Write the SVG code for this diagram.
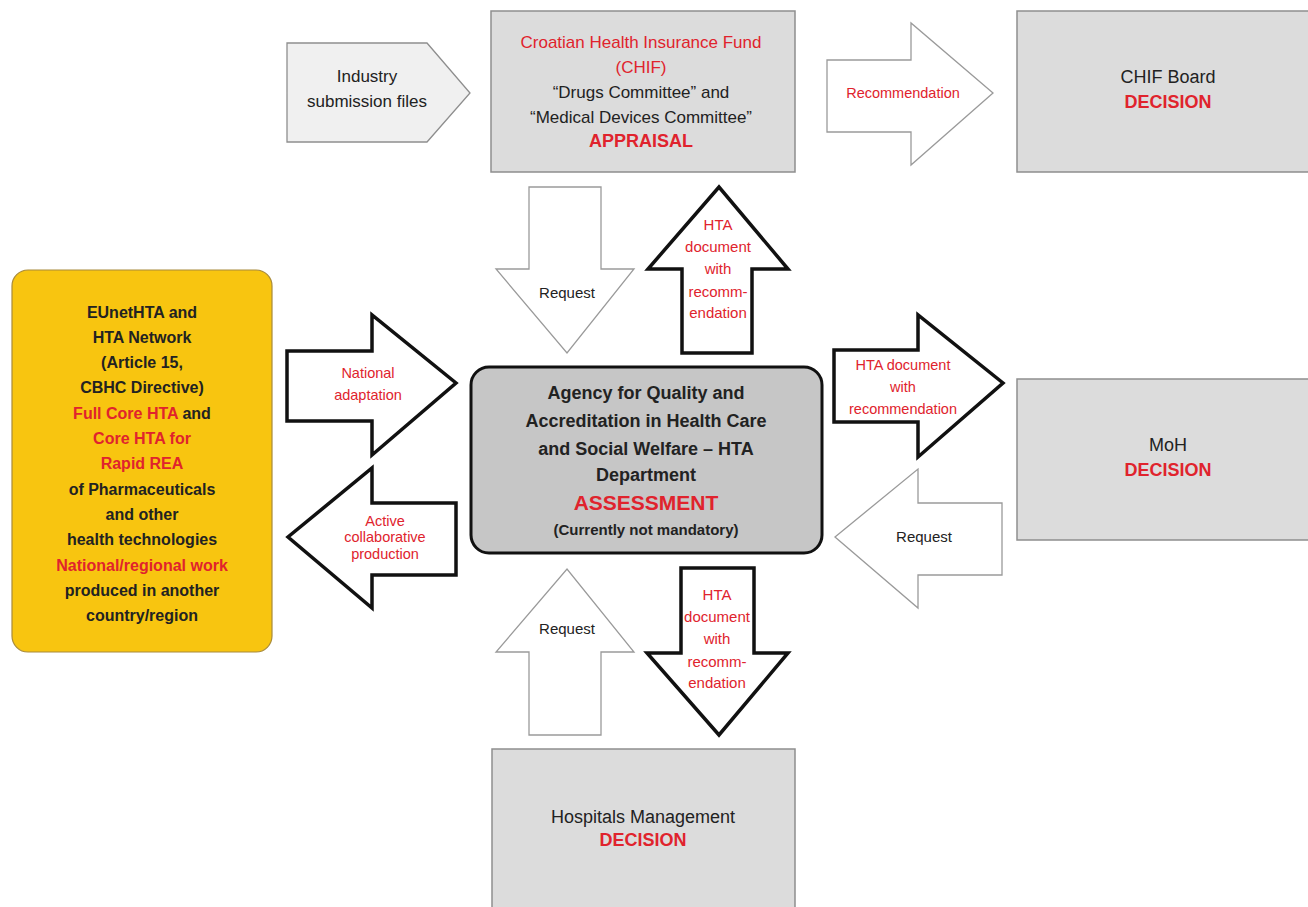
<svg xmlns="http://www.w3.org/2000/svg" width="1308" height="907" viewBox="0 0 1308 907">
<style>
text{font-family:"Liberation Sans",Arial,sans-serif;text-anchor:middle;fill:#222}
text.r,.r text{fill:#e0232d}
.b{font-weight:bold}
.box{fill:#dcdcdc;stroke:#8e8e8e;stroke-width:1.5}
.thin{fill:#fff;stroke:#9a9a9a;stroke-width:1.3;stroke-linejoin:miter}
.thick{fill:#fff;stroke:#111;stroke-width:3.5;stroke-linejoin:miter}
.s17{font-size:17px}
.s18{font-size:18px}
.s14{font-size:14.5px}
.s15{font-size:15px}
.s16{font-size:16px}
</style>
<rect width="1308" height="907" fill="#fff"/>

<g id="industry">
<path d="M287,43 L427,43 L470,93 L427,142 L287,142 Z" fill="#f0f0f0" stroke="#8e8e8e" stroke-width="1.3"/>
<text class="s17" x="367" y="82">Industry</text>
<text class="s17" x="367" y="107">submission files</text>
</g>

<g id="chif">
<rect class="box" x="491" y="11" width="304" height="161"/>
<text class="s17 r" x="641" y="48">Croatian Health Insurance Fund</text>
<text class="s17 r" x="641" y="73">(CHIF)</text>
<text class="s17" x="641" y="98">“Drugs Committee” and</text>
<text class="s17" x="641" y="123">“Medical Devices Committee”</text>
<text class="s18 b r" x="641" y="147">APPRAISAL</text>
</g>

<g id="chif-board">
<rect class="box" x="1017" y="11" width="300" height="161"/>
<text class="s18" x="1168" y="83">CHIF Board</text>
<text class="s18 b r" x="1168" y="108">DECISION</text>
</g>

<g id="eunethta">
<rect x="12" y="270" width="260" height="382" rx="16" ry="16" fill="#f8c510" stroke="#a88a3a" stroke-width="1.2"/>
<g class="s16 b">
<text x="142" y="317.5">EUnetHTA and</text>
<text x="142" y="342.8">HTA Network</text>
<text x="142" y="368.1">(Article 15,</text>
<text x="142" y="393.4">CBHC Directive)</text>
<text x="142" y="418.7"><tspan fill="#e0232d">Full Core HTA</tspan> and</text>
<text class="r" x="142" y="444">Core HTA for</text>
<text class="r" x="142" y="469.3">Rapid REA</text>
<text x="142" y="494.6">of Pharmaceuticals</text>
<text x="142" y="519.9">and other</text>
<text x="142" y="545.2">health technologies</text>
<text class="r" x="142" y="570.5">National/regional work</text>
<text x="142" y="595.8">produced in another</text>
<text x="142" y="621.1">country/region</text>
</g>
</g>

<g id="agency">
<rect x="471" y="367" width="351" height="186" rx="18" ry="18" fill="#c6c6c6" stroke="#111" stroke-width="3"/>
<g class="s18 b">
<text x="646" y="399">Agency for Quality and</text>
<text x="646" y="427">Accreditation in Health Care</text>
<text x="646" y="455">and Social Welfare – HTA</text>
<text x="646" y="481">Department</text>
</g>
<text class="b r" x="646" y="509.5" font-size="21">ASSESSMENT</text>
<text class="b" x="646" y="535" font-size="15">(Currently not mandatory)</text>
</g>

<g id="moh">
<rect class="box" x="1017" y="379" width="300" height="161"/>
<text class="s18" x="1168" y="451">MoH</text>
<text class="s18 b r" x="1168" y="476">DECISION</text>
</g>

<g id="hospitals">
<rect class="box" x="492" y="749" width="303" height="170"/>
<text class="s18" x="643" y="823">Hospitals Management</text>
<text class="s18 b r" x="643" y="846">DECISION</text>
</g>

<g id="connectors">
<g id="recommendation">
<path class="thin" d="M827,60 L911,60 L911,23 L993,93 L911,165 L911,132 L827,132 Z"/>
<text class="s14 r" x="903" y="98">Recommendation</text>
</g>
<g id="request-chif">
<path class="thin" d="M529,187 L601,187 L601,269 L634,269 L567,353 L496,269 L529,269 Z"/>
<text class="s15" x="567" y="298">Request</text>
</g>
<g id="hta-to-chif">
<path class="thick" d="M682,353 L752,353 L752,269 L788,269 L719,187 L648,269 L682,269 Z"/>
<g class="s15 r">
<text x="718" y="230">HTA</text>
<text x="718" y="252">document</text>
<text x="718" y="274">with</text>
<text x="718" y="297">recomm-</text>
<text x="718" y="318">endation</text>
</g>
</g>
<g id="national-adaptation">
<path class="thick" d="M287,351 L372,351 L372,315 L456,383 L372,455 L372,421 L287,421 Z"/>
<text class="s14 r" x="368" y="378">National</text>
<text class="s14 r" x="368" y="400">adaptation</text>
</g>
<g id="active-production">
<path class="thick" d="M456,503 L372,503 L372,468 L288,537 L372,608 L372,575 L456,575 Z"/>
<text class="s14 r" x="385" y="526">Active</text>
<text class="s14 r" x="385" y="542">collaborative</text>
<text class="s14 r" x="385" y="559">production</text>
</g>
<g id="hta-to-moh">
<path class="thick" d="M834,350 L918,350 L918,315 L1003,383 L918,457 L918,422 L834,422 Z"/>
<text class="s14 r" x="903" y="370">HTA document</text>
<text class="s14 r" x="903" y="392">with</text>
<text class="s14 r" x="903" y="414">recommendation</text>
</g>
<g id="request-moh">
<path class="thin" d="M1002,503 L918,503 L918,469 L835,537 L918,608 L918,575 L1002,575 Z"/>
<text class="s15" x="924" y="542">Request</text>
</g>
<g id="request-hospitals">
<path class="thin" d="M529,735 L601,735 L601,652 L634,652 L567,569 L496,652 L529,652 Z"/>
<text class="s15" x="567" y="634">Request</text>
</g>
<g id="hta-to-hospitals">
<path class="thick" d="M681,568 L754,568 L754,653 L788,653 L719,735 L647,653 L681,653 Z"/>
<g class="s15 r">
<text x="717" y="600">HTA</text>
<text x="717" y="622">document</text>
<text x="717" y="644">with</text>
<text x="717" y="667">recomm-</text>
<text x="717" y="688">endation</text>
</g>
</g>
</g>
</svg>
